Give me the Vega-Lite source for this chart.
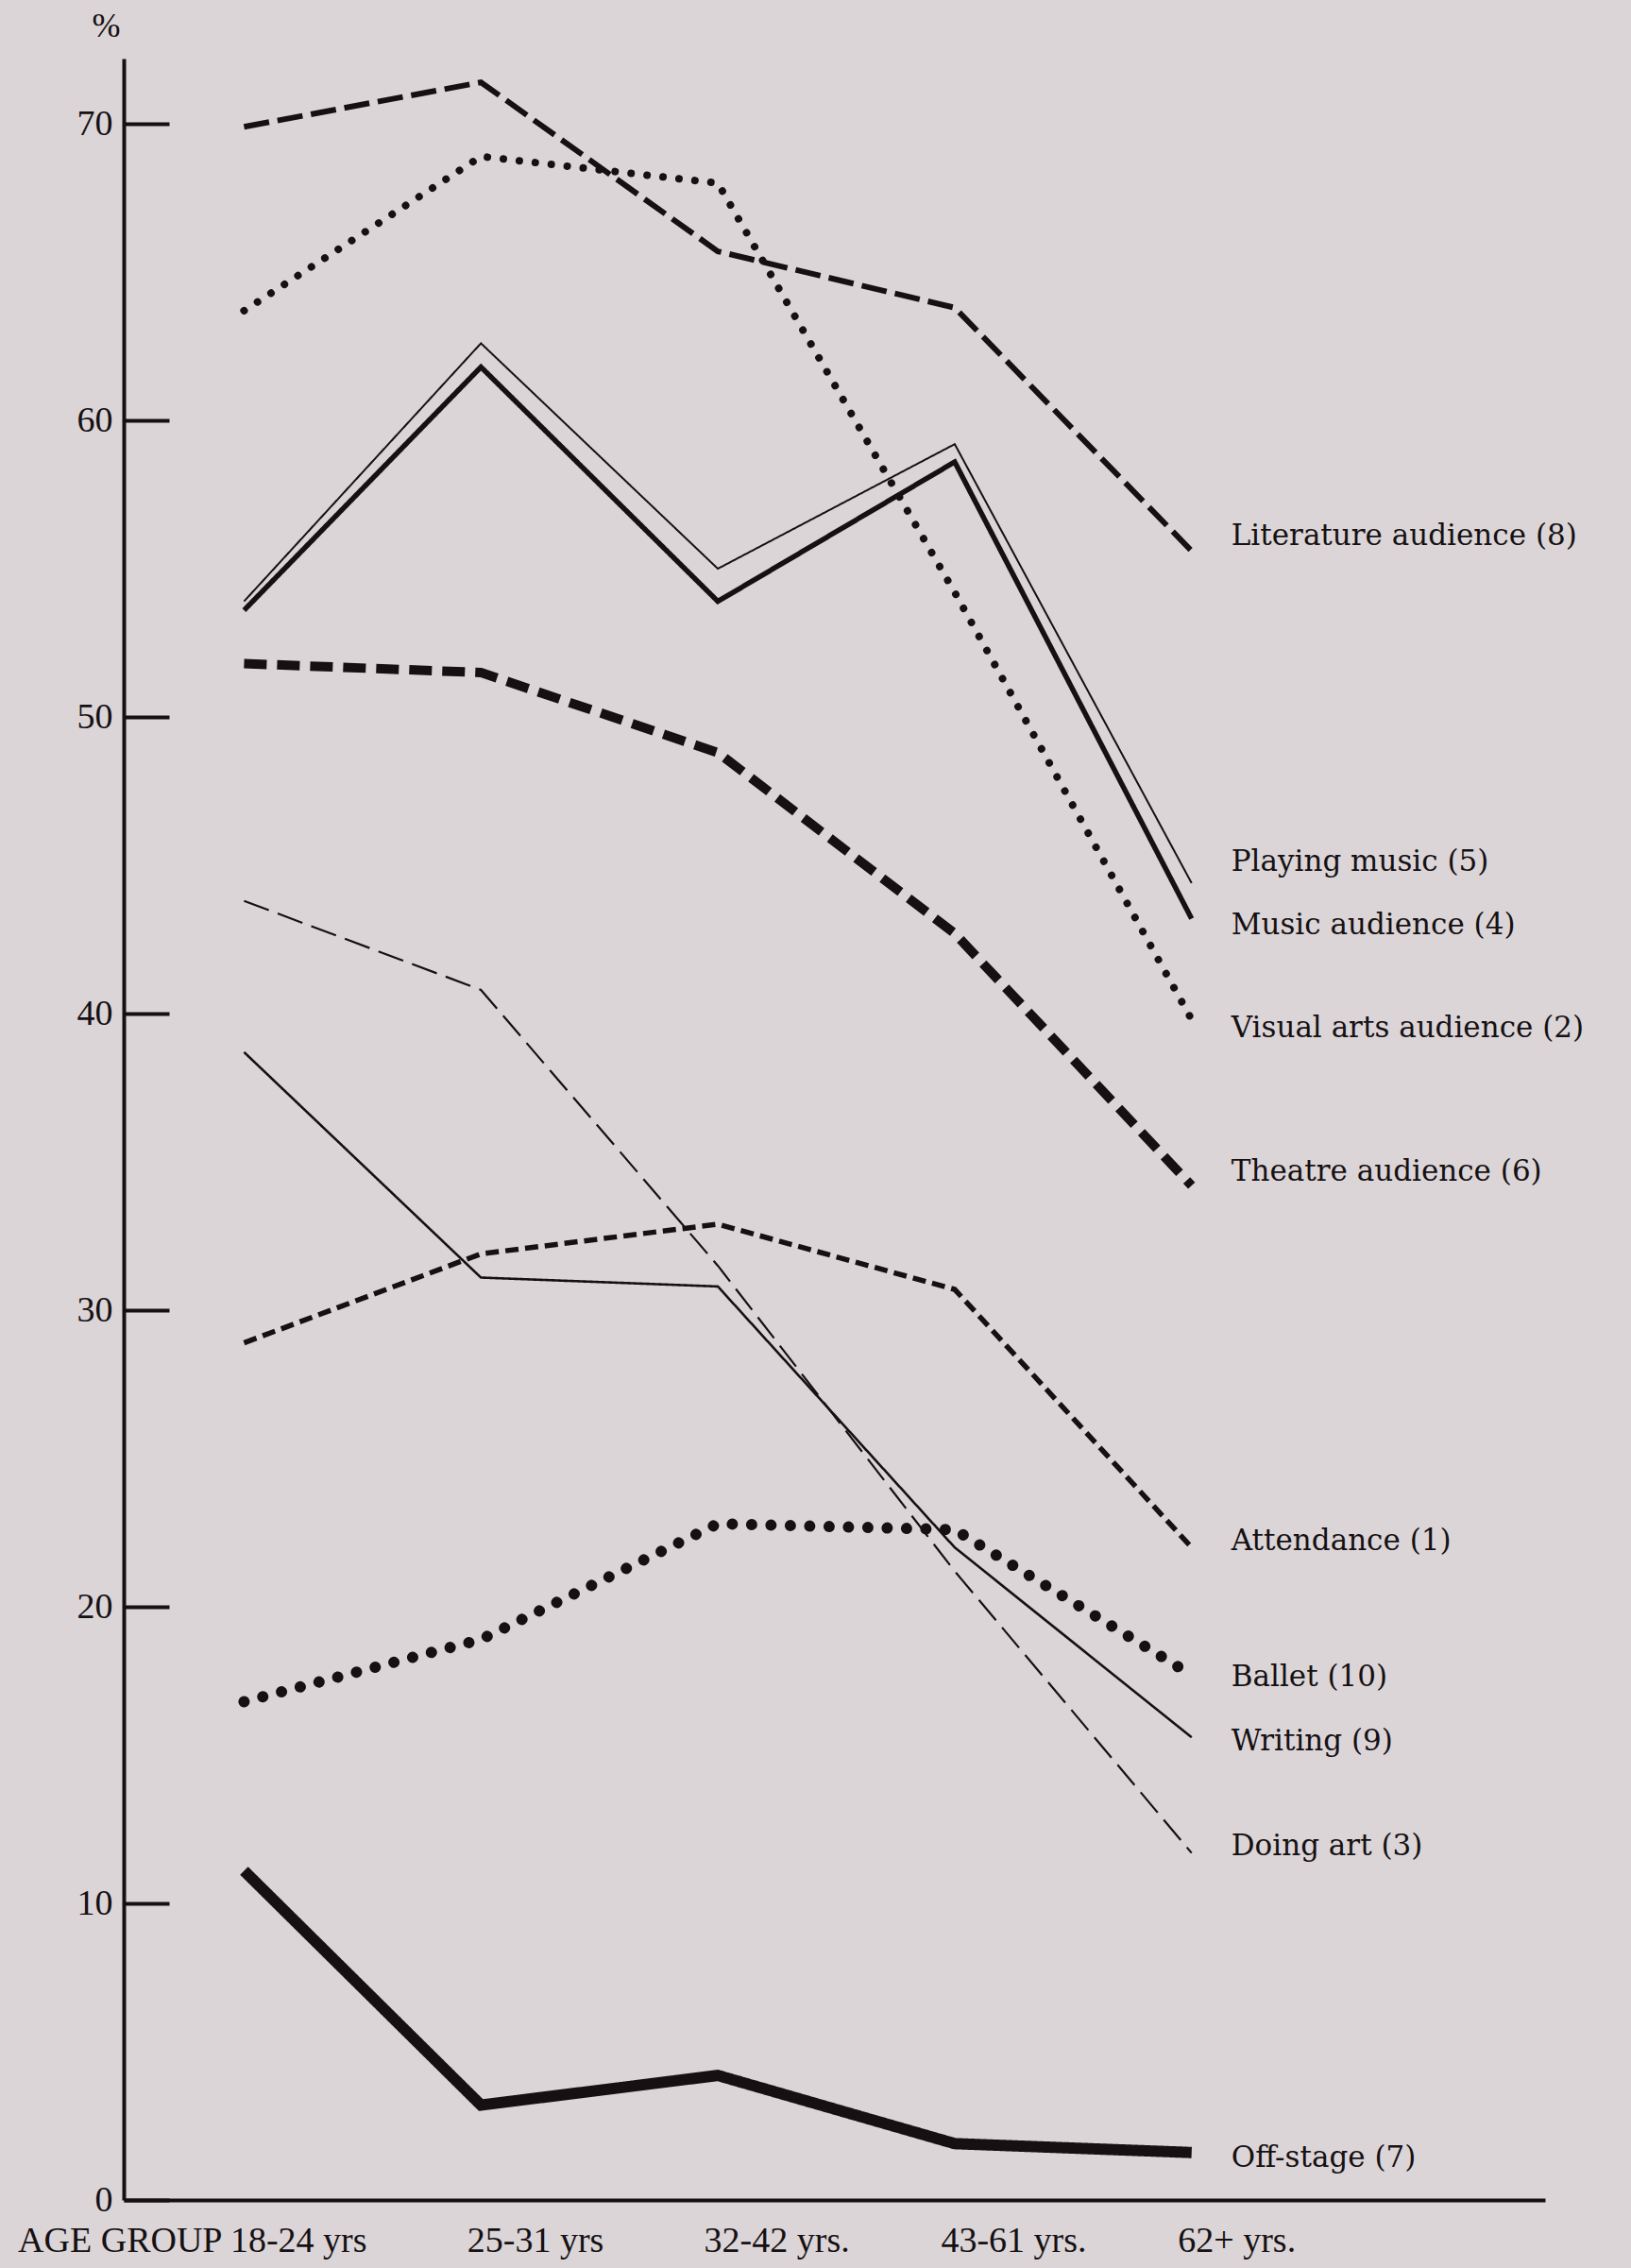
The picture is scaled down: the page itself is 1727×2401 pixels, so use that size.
{
  "$schema": "https://vega.github.io/schema/vega-lite/v6.json",
  "width": 1505,
  "height": 2267,
  "autosize": {"type": "none"},
  "padding": {"left": 131, "top": 62, "right": 91, "bottom": 72},
  "background": "#dcd5d8",
  "config": {
    "view": {"stroke": null},
    "axis": {
      "grid": false,
      "domainColor": "#151113",
      "domainWidth": 4,
      "tickColor": "#151113",
      "labelColor": "#151113",
      "titleColor": "#151113",
      "labelFont": "Liberation Serif",
      "titleFont": "Liberation Serif",
      "titleFontWeight": "normal"
    }
  },
  "datasets": {
    "series": [
      {"series": "Literature audience (8)", "age": "18-24 yrs", "value": 69.9},
      {"series": "Literature audience (8)", "age": "25-31 yrs", "value": 71.4},
      {"series": "Literature audience (8)", "age": "32-42 yrs.", "value": 65.7},
      {"series": "Literature audience (8)", "age": "43-61 yrs.", "value": 63.8},
      {"series": "Literature audience (8)", "age": "62+ yrs.", "value": 55.6},
      {"series": "Visual arts audience (2)", "age": "18-24 yrs", "value": 63.7},
      {"series": "Visual arts audience (2)", "age": "25-31 yrs", "value": 68.9},
      {"series": "Visual arts audience (2)", "age": "32-42 yrs.", "value": 68.0},
      {"series": "Visual arts audience (2)", "age": "43-61 yrs.", "value": 54.2},
      {"series": "Visual arts audience (2)", "age": "62+ yrs.", "value": 39.8},
      {"series": "Playing music (5)", "age": "18-24 yrs", "value": 53.9},
      {"series": "Playing music (5)", "age": "25-31 yrs", "value": 62.6},
      {"series": "Playing music (5)", "age": "32-42 yrs.", "value": 55.0},
      {"series": "Playing music (5)", "age": "43-61 yrs.", "value": 59.2},
      {"series": "Playing music (5)", "age": "62+ yrs.", "value": 44.4},
      {"series": "Music audience (4)", "age": "18-24 yrs", "value": 53.6},
      {"series": "Music audience (4)", "age": "25-31 yrs", "value": 61.8},
      {"series": "Music audience (4)", "age": "32-42 yrs.", "value": 53.9},
      {"series": "Music audience (4)", "age": "43-61 yrs.", "value": 58.6},
      {"series": "Music audience (4)", "age": "62+ yrs.", "value": 43.2},
      {"series": "Theatre audience (6)", "age": "18-24 yrs", "value": 51.8},
      {"series": "Theatre audience (6)", "age": "25-31 yrs", "value": 51.5},
      {"series": "Theatre audience (6)", "age": "32-42 yrs.", "value": 48.8},
      {"series": "Theatre audience (6)", "age": "43-61 yrs.", "value": 42.7},
      {"series": "Theatre audience (6)", "age": "62+ yrs.", "value": 34.2},
      {"series": "Doing art (3)", "age": "18-24 yrs", "value": 43.8},
      {"series": "Doing art (3)", "age": "25-31 yrs", "value": 40.8},
      {"series": "Doing art (3)", "age": "32-42 yrs.", "value": 31.5},
      {"series": "Doing art (3)", "age": "43-61 yrs.", "value": 21.2},
      {"series": "Doing art (3)", "age": "62+ yrs.", "value": 11.7},
      {"series": "Writing (9)", "age": "18-24 yrs", "value": 38.7},
      {"series": "Writing (9)", "age": "25-31 yrs", "value": 31.1},
      {"series": "Writing (9)", "age": "32-42 yrs.", "value": 30.8},
      {"series": "Writing (9)", "age": "43-61 yrs.", "value": 22.0},
      {"series": "Writing (9)", "age": "62+ yrs.", "value": 15.6},
      {"series": "Attendance (1)", "age": "18-24 yrs", "value": 28.9},
      {"series": "Attendance (1)", "age": "25-31 yrs", "value": 31.9},
      {"series": "Attendance (1)", "age": "32-42 yrs.", "value": 32.9},
      {"series": "Attendance (1)", "age": "43-61 yrs.", "value": 30.7},
      {"series": "Attendance (1)", "age": "62+ yrs.", "value": 22.0},
      {"series": "Ballet (10)", "age": "18-24 yrs", "value": 16.8},
      {"series": "Ballet (10)", "age": "25-31 yrs", "value": 18.9},
      {"series": "Ballet (10)", "age": "32-42 yrs.", "value": 22.8},
      {"series": "Ballet (10)", "age": "43-61 yrs.", "value": 22.6},
      {"series": "Ballet (10)", "age": "62+ yrs.", "value": 17.7},
      {"series": "Off-stage (7)", "age": "18-24 yrs", "value": 11.1},
      {"series": "Off-stage (7)", "age": "25-31 yrs", "value": 3.2},
      {"series": "Off-stage (7)", "age": "32-42 yrs.", "value": 4.2},
      {"series": "Off-stage (7)", "age": "43-61 yrs.", "value": 1.9},
      {"series": "Off-stage (7)", "age": "62+ yrs.", "value": 1.6}
    ],
    "labels": [
      {"label": "Literature audience (8)", "age": "62+ yrs.", "labelValue": 56.1},
      {"label": "Playing music (5)", "age": "62+ yrs.", "labelValue": 45.1},
      {"label": "Music audience (4)", "age": "62+ yrs.", "labelValue": 42.95},
      {"label": "Visual arts audience (2)", "age": "62+ yrs.", "labelValue": 39.5},
      {"label": "Theatre audience (6)", "age": "62+ yrs.", "labelValue": 34.65},
      {"label": "Attendance (1)", "age": "62+ yrs.", "labelValue": 22.2},
      {"label": "Ballet (10)", "age": "62+ yrs.", "labelValue": 17.6},
      {"label": "Writing (9)", "age": "62+ yrs.", "labelValue": 15.45},
      {"label": "Doing art (3)", "age": "62+ yrs.", "labelValue": 11.9},
      {"label": "Off-stage (7)", "age": "62+ yrs.", "labelValue": 1.4}
    ]
  },
  "encoding": {
    "x": {
      "field": "age",
      "type": "nominal",
      "sort": null,
      "scale": {
        "type": "point",
        "domain": ["18-24 yrs", "25-31 yrs", "32-42 yrs.", "43-61 yrs.", "62+ yrs."],
        "padding": 1.016,
        "align": 0.254
      },
      "axis": {
        "title": "AGE GROUP",
        "ticks": false,
        "labelAngle": 0,
        "labelAlign": "left",
        "labelBaseline": "top",
        "labelFontSize": 38,
        "labelPadding": 24,
        "labelOffset": -15,
        "titleFontSize": 38,
        "titleAlign": "right",
        "titleAnchor": "start",
        "titleX": 104,
        "titleY": 24,
        "titleBaseline": "top"
      }
    }
  },
  "layer": [
    {
      "data": {"name": "series"},
      "transform": [{"filter": "datum.series !== 'Visual arts audience (2)' && datum.series !== 'Ballet (10)'"}],
      "mark": {"type": "line", "color": "#151113", "strokeCap": "butt", "strokeJoin": "miter"},
      "encoding": {
        "y": {
          "field": "value",
          "type": "quantitative",
          "scale": {"domain": [0, 72.2], "nice": false},
          "axis": {
            "values": [0, 10, 20, 30, 40, 50, 60, 70],
            "tickSize": -48,
            "tickWidth": 4,
            "labelPadding": 60,
            "labelFontSize": 38,
            "labelBaseline": "middle",
            "title": "%",
            "titleAngle": 0,
            "titleX": -19,
            "titleY": -35,
            "titleAlign": "center",
            "titleBaseline": "middle",
            "titleFontSize": 36
          }
        },
        "detail": {"field": "series", "type": "nominal"},
        "strokeDash": {
          "field": "series",
          "type": "nominal",
          "legend": null,
          "scale": {
            "domain": ["Literature audience (8)", "Playing music (5)", "Music audience (4)", "Theatre audience (6)", "Doing art (3)", "Writing (9)", "Attendance (1)", "Off-stage (7)"],
            "range": [[27, 9], [1, 0], [1, 0], [24, 11], [28, 10], [1, 0], [14, 7], [1, 0]]
          }
        },
        "strokeWidth": {
          "field": "series",
          "type": "nominal",
          "legend": null,
          "scale": {
            "type": "ordinal",
            "domain": ["Literature audience (8)", "Playing music (5)", "Music audience (4)", "Theatre audience (6)", "Doing art (3)", "Writing (9)", "Attendance (1)", "Off-stage (7)"],
            "range": [6, 2, 5.5, 10, 2.2, 2.6, 5.5, 12]
          }
        }
      }
    },
    {
      "data": {"name": "series"},
      "transform": [{"filter": "datum.series === 'Visual arts audience (2)' || datum.series === 'Ballet (10)'"}],
      "mark": {"type": "line", "color": "#151113", "strokeCap": "round", "strokeJoin": "round"},
      "encoding": {
        "y": {"field": "value", "type": "quantitative"},
        "detail": {"field": "series", "type": "nominal"},
        "strokeDash": {
          "field": "series",
          "type": "nominal",
          "legend": null,
          "scale": {
            "domain": ["Visual arts audience (2)", "Ballet (10)"],
            "range": [[0.01, 17], [0.01, 20.5]]
          }
        },
        "strokeWidth": {
          "field": "series",
          "type": "nominal",
          "legend": null,
          "scale": {
            "type": "ordinal",
            "domain": ["Visual arts audience (2)", "Ballet (10)"],
            "range": [8, 12]
          }
        }
      }
    },
    {
      "data": {"name": "labels"},
      "mark": {"type": "text", "font": "DejaVu Serif", "fontSize": 31, "align": "left", "baseline": "middle", "dx": 42, "color": "#151113"},
      "encoding": {
        "y": {"field": "labelValue", "type": "quantitative"},
        "text": {"field": "label", "type": "nominal"}
      }
    }
  ],
  "resolve": {"scale": {"strokeDash": "independent", "strokeWidth": "independent"}}
}
